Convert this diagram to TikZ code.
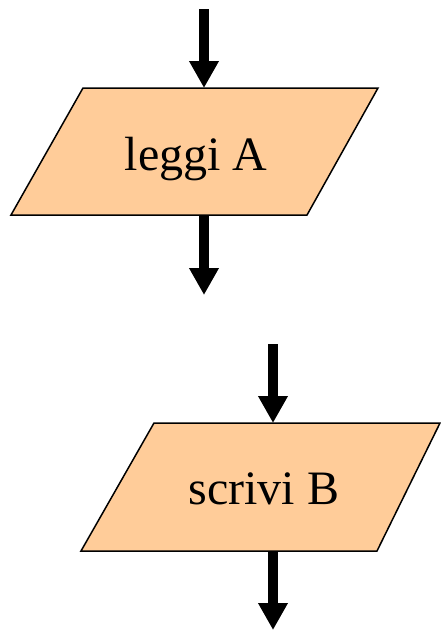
\documentclass[tikz,border=0pt]{standalone}
\usepackage{fontspec}
\setmainfont{Liberation Serif}
\usetikzlibrary{arrows.meta}
\definecolor{peach}{RGB}{255,204,153}
\tikzset{
  iobox/.style={fill=peach, draw=black, line width=1.5pt, line join=miter},
  flowarrow/.style={line width=10pt, -{Triangle[length=27pt,width=28pt]}},
  label/.style={font=\fontsize{48}{56}\selectfont, inner sep=0pt, anchor=base}
}
\begin{document}
\begin{tikzpicture}[x=1pt,y=-1pt]
\useasboundingbox (0,0) rectangle (441,630);
% first block
\draw[iobox] (83,88) -- (378,88) -- (307,215) -- (11,215) -- cycle;
\node[label] (leggi) at (196,170) {leggi A};
\coordinate (in1) at (204,9);
\coordinate (top1) at (204,88);
\coordinate (bot1) at (204,215);
\coordinate (out1) at (204,295);
\draw[flowarrow] (in1) -- (top1);
\draw[flowarrow] (bot1) -- (out1);
% second block
\draw[iobox] (154,423) -- (440,423) -- (377,551) -- (81,551) -- cycle;
\node[label] (scrivi) at (264,504) {scrivi B};
\coordinate (in2) at (273,344);
\coordinate (top2) at (273,423);
\coordinate (bot2) at (273,551);
\coordinate (out2) at (273,630);
\draw[flowarrow] (in2) -- (top2);
\draw[flowarrow] (bot2) -- (out2);
\end{tikzpicture}
\end{document}
